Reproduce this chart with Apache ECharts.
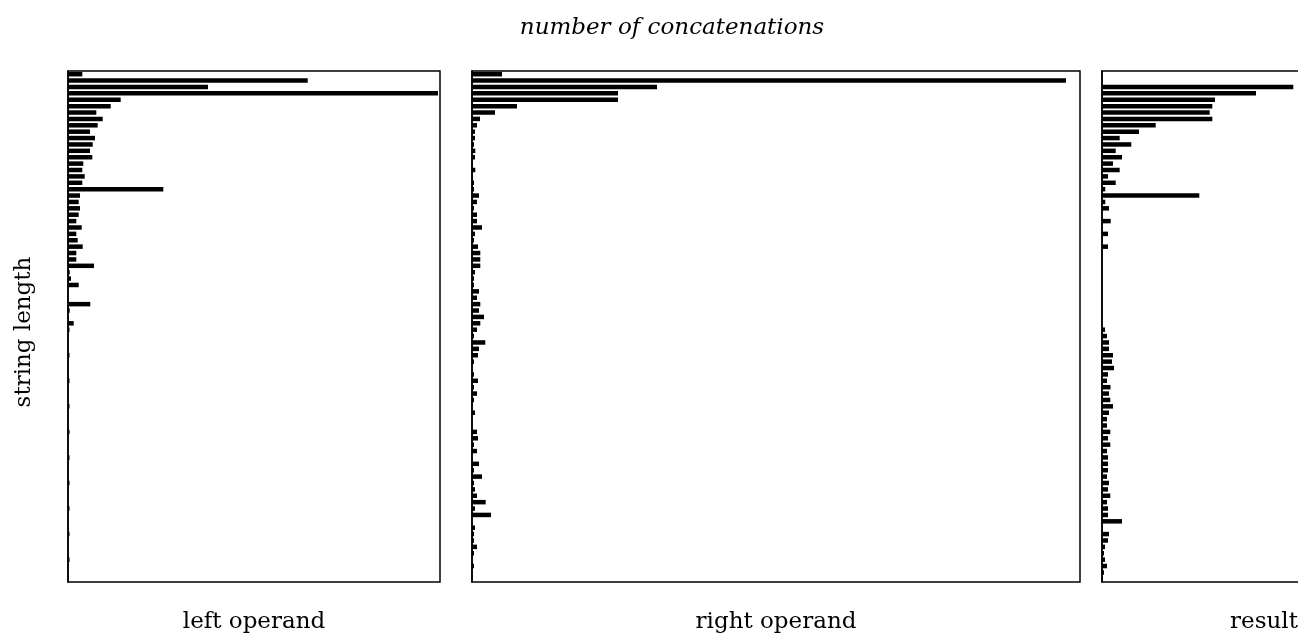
<!DOCTYPE html>
<html lang="en">
<head>
    <meta charset="UTF-8">
    <title>concatenations</title>
    <style>
        body {
            margin: 0;
            padding: 0;
            background: #fff;
        }
        #chart {
            width: 1298px;
            height: 639px;
        }
    </style>
</head>
<body>
<div id="chart"></div>
<script src="https://cdn.jsdelivr.net/npm/echarts@6/dist/echarts.min.js"></script>
<script>
    // one row per string length, 0 at the top
    const lengths = Array.from({length: 80}, (_, i) => String(i));

    const leftOperand = [
        14.3, 239.7, 140, 370, 52.7, 42.7, 28.3, 34.7, 29.7, 22,
        27, 24.7, 22, 24.3, 15.3, 14.3, 16.7, 14.3, 95.3, 12,
        10.7, 12, 10.7, 8.3, 13.7, 8.3, 9.7, 14.7, 8.3, 8.3,
        26, 1.7, 3, 10.7, 0, 0, 22.3, 1.7, 0, 5.7,
        1.5, 0, 0, 0, 1.5, 0, 0, 0, 1.5, 0,
        0, 0, 1.5, 0, 0, 0, 1.5, 0, 0, 0,
        1.5, 0, 0, 0, 1.5, 0, 0, 0, 1.5, 0,
        0, 0, 1.5, 0, 0, 0, 1.5, 0, 0, 0
    ];
    const rightOperand = [
        30, 594, 185, 146, 146, 45, 23, 8, 5, 3,
        3, 2, 3.3, 3, 0.5, 3.3, 0.5, 2, 2, 7,
        5, 2, 5, 5, 10, 3, 2, 6, 8.3, 8.3,
        8.3, 3, 2, 2, 7, 5, 8.3, 7, 12, 8.3,
        5, 2, 13.3, 7, 6, 2, 0, 2, 6, 2,
        5, 2, 0, 3, 0, 0, 5, 6, 2, 5,
        0, 7, 2, 10, 2, 3, 5, 13.7, 3, 19,
        0, 3, 2, 2, 5, 2, 0, 2, 0, 0
    ];
    const result = [
        0, 0, 191.3, 154, 113, 110.3, 107.7, 110.3, 53.7, 37,
        17.7, 29.3, 13.7, 20, 11, 17.7, 6, 13.7, 3.3, 97.3,
        3.3, 7, 0, 8.7, 0, 6, 0, 6, 0, 0,
        0, 0, 0, 0, 0, 0, 0, 0, 0, 0,
        3, 5, 7, 7, 11, 10, 12, 6, 5, 8.5,
        7, 8.3, 11, 7, 5, 5, 8.3, 6, 8.3, 5,
        6, 6, 6, 5, 7, 6, 8.3, 5, 6, 6,
        20, 0, 7, 6, 3, 2, 3, 5, 2, 1
    ];

    const panelNames = ["left operand", "right operand", "result"];
    const panelData = [leftOperand, rightOperand, result];
    const axisMax = [372, 608, 324];

    const serif = "DejaVu Serif";
    // the third panel runs past the right edge of the picture
    const panels = [
        {left: 68, width: 372},
        {left: 472, width: 608},
        {left: 1102, width: 324},
    ];

    const chart = echarts.init(document.getElementById("chart"));

    const option = {
        backgroundColor: "#fff",
        animation: false,
        title: {
            text: "number of concatenations",
            left: 667,
            top: 12,
            textAlign: "center",
            textStyle: {
                fontFamily: serif,
                fontStyle: "italic",
                fontWeight: "normal",
                fontSize: 23,
                color: "#000",
            },
        },
        grid: panels.map(p => ({
            left: p.left,
            top: 71,
            width: p.width,
            height: 511,
            outerBoundsMode: "none",
            containLabel: false,
            show: true,
            borderColor: "#000",
            borderWidth: 1.5,
            backgroundColor: "#fff",
        })),
        xAxis: panelNames.map((name, i) => ({
            type: "value",
            gridIndex: i,
            min: 0,
            max: axisMax[i],
            axisLine: {show: false},
            axisTick: {show: false},
            axisLabel: {show: false},
            splitLine: {show: false},
            name: name,
            nameLocation: "middle",
            nameGap: 29,
            nameTextStyle: {
                fontFamily: serif,
                fontSize: 23,
                color: "#000",
            },
        })),
        yAxis: panelNames.map((name, i) => ({
            type: "category",
            gridIndex: i,
            data: lengths,
            inverse: true,
            axisLine: {show: true, lineStyle: {color: "#000", width: 1.5}},
            axisTick: {show: false},
            axisLabel: {show: false},
            splitLine: {show: false},
            name: i === 0 ? "string length" : "",
            nameLocation: "middle",
            nameRotate: 90,
            nameGap: 32,
            nameTextStyle: {
                fontFamily: serif,
                fontSize: 23,
                color: "#000",
                padding: [0, 11, 0, 0],
            },
        })),
        series: panelData.map((data, i) => ({
            type: "bar",
            name: panelNames[i],
            xAxisIndex: i,
            yAxisIndex: i,
            data: data,
            barWidth: 4.5,
            itemStyle: {color: "#000"},
            silent: true,
        })),
    };

    chart.setOption(option);
</script>
</body>
</html>
